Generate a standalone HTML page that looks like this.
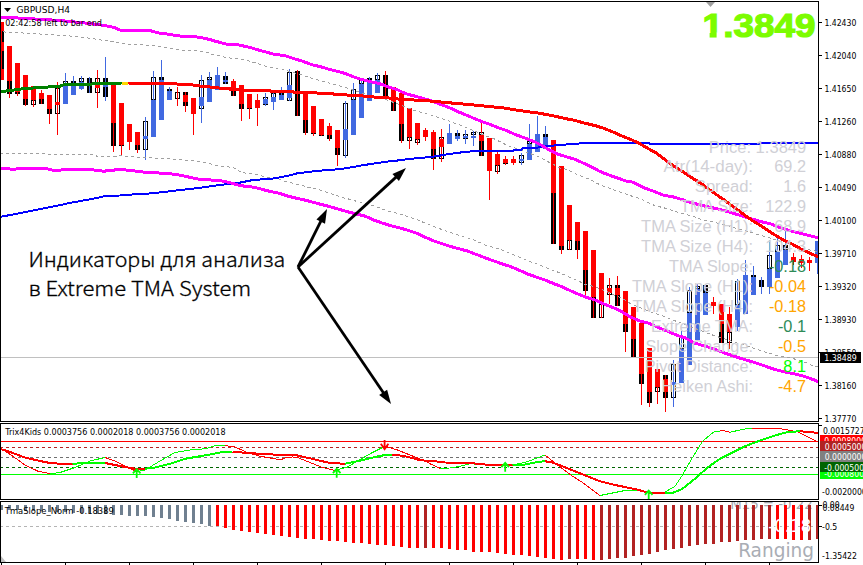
<!DOCTYPE html><html><head><meta charset="utf-8"><title>GBPUSD,H4</title><style>html,body{margin:0;padding:0;background:#fff;width:863px;height:565px;overflow:hidden}svg{display:block}text{font-family:"Liberation Sans",Arial,sans-serif}text.tt{font-family:"DejaVu Sans",sans-serif}</style></head><body>
<svg width="863" height="565" viewBox="0 0 863 565">
<rect x="0" y="0" width="863" height="565" fill="#fff"/>
<defs><clipPath id="cm"><rect x="1" y="2" width="817" height="419"/></clipPath><clipPath id="c1"><rect x="1" y="424" width="817" height="75"/></clipPath><clipPath id="c2"><rect x="1" y="502" width="817" height="60"/></clipPath></defs>
<g clip-path="url(#cm)">
<g shape-rendering="crispEdges">
<rect x="-1" y="22" width="5" height="58" fill="#ff0000"/>
<rect x="-1" y="31" width="5" height="11" fill="#000"/>
<rect x="-1" y="51" width="5" height="18" fill="#000"/>
<rect x="1" y="22" width="1" height="58" fill="#ff0000"/>
<rect x="7" y="46" width="5" height="35" fill="#ff0000"/>
<rect x="7" y="81" width="5" height="13" fill="#000"/>
<rect x="9" y="46" width="1" height="52" fill="#ff0000"/>
<rect x="15" y="63" width="5" height="29" fill="#ff0000"/>
<rect x="15" y="92" width="5" height="2" fill="#000"/>
<rect x="17" y="63" width="1" height="33" fill="#ff0000"/>
<rect x="23" y="75" width="5" height="24" fill="#ff0000"/>
<rect x="23" y="99" width="5" height="6" fill="#000"/>
<rect x="25" y="75" width="1" height="31" fill="#ff0000"/>
<rect x="31" y="86" width="5" height="14" fill="#ff0000"/>
<rect x="31" y="100" width="5" height="5" fill="#000"/>
<rect x="32" y="101" width="3" height="3" fill="#fff"/>
<rect x="33" y="86" width="1" height="21" fill="#ff0000"/>
<rect x="39" y="93" width="5" height="6" fill="#ff0000"/>
<rect x="39" y="99" width="5" height="5" fill="#000"/>
<rect x="41" y="90" width="1" height="14" fill="#ff0000"/>
<rect x="47" y="95" width="5" height="14" fill="#ff0000"/>
<rect x="47" y="109" width="5" height="5" fill="#000"/>
<rect x="49" y="95" width="1" height="29" fill="#ff0000"/>
<rect x="55" y="88" width="5" height="26" fill="#000"/>
<rect x="56" y="89" width="3" height="24" fill="#fff"/>
<rect x="55" y="102" width="5" height="3" fill="#ff0000"/>
<rect x="57" y="82" width="1" height="53" fill="#ff0000"/>
<rect x="63" y="81" width="5" height="3" fill="#000"/>
<rect x="64" y="82" width="3" height="1" fill="#fff"/>
<rect x="63" y="84" width="5" height="20" fill="#4169e1"/>
<rect x="65" y="73" width="1" height="31" fill="#4169e1"/>
<rect x="71" y="81" width="5" height="2" fill="#000"/>
<rect x="71" y="83" width="5" height="12" fill="#4169e1"/>
<rect x="73" y="76" width="1" height="19" fill="#4169e1"/>
<rect x="79" y="78" width="5" height="4" fill="#000"/>
<rect x="80" y="79" width="3" height="2" fill="#fff"/>
<rect x="79" y="82" width="5" height="7" fill="#4169e1"/>
<rect x="81" y="76" width="1" height="14" fill="#4169e1"/>
<rect x="87" y="78" width="5" height="15" fill="#000"/>
<rect x="89" y="77" width="1" height="16" fill="#4169e1"/>
<rect x="95" y="78" width="5" height="15" fill="#000"/>
<rect x="96" y="79" width="3" height="13" fill="#fff"/>
<rect x="95" y="85" width="5" height="3" fill="#ff0000"/>
<rect x="97" y="70" width="1" height="38" fill="#ff0000"/>
<rect x="103" y="78" width="5" height="19" fill="#000"/>
<rect x="103" y="84" width="5" height="3" fill="#4169e1"/>
<rect x="105" y="57" width="1" height="44" fill="#4169e1"/>
<rect x="111" y="84" width="5" height="39" fill="#ff0000"/>
<rect x="111" y="123" width="5" height="23" fill="#000"/>
<rect x="113" y="84" width="1" height="68" fill="#ff0000"/>
<rect x="119" y="103" width="5" height="42" fill="#ff0000"/>
<rect x="119" y="145" width="5" height="1" fill="#000"/>
<rect x="121" y="103" width="1" height="53" fill="#ff0000"/>
<rect x="127" y="124" width="5" height="18" fill="#ff0000"/>
<rect x="129" y="124" width="1" height="26" fill="#ff0000"/>
<rect x="135" y="132" width="5" height="13" fill="#ff0000"/>
<rect x="135" y="145" width="5" height="5" fill="#000"/>
<rect x="137" y="132" width="1" height="21" fill="#ff0000"/>
<rect x="143" y="121" width="5" height="29" fill="#000"/>
<rect x="144" y="122" width="3" height="27" fill="#fff"/>
<rect x="143" y="136" width="5" height="3" fill="#4169e1"/>
<rect x="145" y="117" width="1" height="43" fill="#4169e1"/>
<rect x="151" y="77" width="5" height="23" fill="#000"/>
<rect x="152" y="78" width="3" height="21" fill="#fff"/>
<rect x="151" y="100" width="5" height="37" fill="#4169e1"/>
<rect x="153" y="71" width="1" height="66" fill="#4169e1"/>
<rect x="159" y="77" width="5" height="3" fill="#000"/>
<rect x="159" y="80" width="5" height="40" fill="#4169e1"/>
<rect x="161" y="60" width="1" height="60" fill="#4169e1"/>
<rect x="167" y="89" width="5" height="2" fill="#000"/>
<rect x="167" y="91" width="5" height="9" fill="#4169e1"/>
<rect x="169" y="87" width="1" height="13" fill="#4169e1"/>
<rect x="175" y="92" width="5" height="7" fill="#000"/>
<rect x="176" y="93" width="3" height="5" fill="#fff"/>
<rect x="177" y="87" width="1" height="19" fill="#ff0000"/>
<rect x="183" y="92" width="5" height="3" fill="#000"/>
<rect x="183" y="95" width="5" height="7" fill="#ff0000"/>
<rect x="183" y="102" width="5" height="4" fill="#000"/>
<rect x="185" y="92" width="1" height="20" fill="#ff0000"/>
<rect x="191" y="98" width="5" height="16" fill="#ff0000"/>
<rect x="193" y="98" width="1" height="37" fill="#ff0000"/>
<rect x="199" y="80" width="5" height="29" fill="#000"/>
<rect x="200" y="81" width="3" height="27" fill="#fff"/>
<rect x="199" y="97" width="5" height="9" fill="#4169e1"/>
<rect x="201" y="75" width="1" height="48" fill="#4169e1"/>
<rect x="207" y="77" width="5" height="3" fill="#000"/>
<rect x="208" y="78" width="3" height="1" fill="#fff"/>
<rect x="207" y="80" width="5" height="22" fill="#4169e1"/>
<rect x="209" y="72" width="1" height="30" fill="#4169e1"/>
<rect x="215" y="75" width="5" height="15" fill="#4169e1"/>
<rect x="217" y="67" width="1" height="23" fill="#4169e1"/>
<rect x="223" y="76" width="5" height="8" fill="#000"/>
<rect x="223" y="80" width="5" height="2" fill="#4169e1"/>
<rect x="225" y="72" width="1" height="12" fill="#4169e1"/>
<rect x="231" y="81" width="5" height="10" fill="#ff0000"/>
<rect x="231" y="91" width="5" height="5" fill="#000"/>
<rect x="233" y="79" width="1" height="17" fill="#ff0000"/>
<rect x="239" y="85" width="5" height="19" fill="#ff0000"/>
<rect x="239" y="104" width="5" height="5" fill="#000"/>
<rect x="241" y="85" width="1" height="36" fill="#ff0000"/>
<rect x="247" y="94" width="5" height="14" fill="#ff0000"/>
<rect x="247" y="108" width="5" height="1" fill="#000"/>
<rect x="249" y="94" width="1" height="25" fill="#ff0000"/>
<rect x="255" y="100" width="5" height="8" fill="#ff0000"/>
<rect x="257" y="94" width="1" height="32" fill="#ff0000"/>
<rect x="263" y="97" width="5" height="8" fill="#000"/>
<rect x="264" y="98" width="3" height="6" fill="#fff"/>
<rect x="263" y="99" width="5" height="5" fill="#4169e1"/>
<rect x="265" y="93" width="1" height="13" fill="#4169e1"/>
<rect x="271" y="93" width="5" height="5" fill="#000"/>
<rect x="272" y="94" width="3" height="3" fill="#fff"/>
<rect x="271" y="97" width="5" height="5" fill="#4169e1"/>
<rect x="273" y="93" width="1" height="17" fill="#4169e1"/>
<rect x="279" y="93" width="5" height="2" fill="#000"/>
<rect x="279" y="95" width="5" height="5" fill="#4169e1"/>
<rect x="281" y="87" width="1" height="13" fill="#4169e1"/>
<rect x="287" y="72" width="5" height="29" fill="#000"/>
<rect x="288" y="73" width="3" height="27" fill="#fff"/>
<rect x="287" y="85" width="5" height="13" fill="#4169e1"/>
<rect x="289" y="69" width="1" height="32" fill="#4169e1"/>
<rect x="295" y="71" width="5" height="45" fill="#000"/>
<rect x="297" y="70" width="1" height="46" fill="#ff0000"/>
<rect x="303" y="93" width="5" height="27" fill="#ff0000"/>
<rect x="303" y="120" width="5" height="12.5" fill="#000"/>
<rect x="305" y="93" width="1" height="42" fill="#ff0000"/>
<rect x="311" y="106" width="5" height="27" fill="#ff0000"/>
<rect x="311" y="133" width="5" height="1" fill="#000"/>
<rect x="313" y="106" width="1" height="30" fill="#ff0000"/>
<rect x="319" y="119" width="5" height="16" fill="#ff0000"/>
<rect x="319" y="135" width="5" height="1" fill="#000"/>
<rect x="321" y="119" width="1" height="17" fill="#ff0000"/>
<rect x="327" y="126" width="5" height="9" fill="#ff0000"/>
<rect x="327" y="135" width="5" height="4" fill="#000"/>
<rect x="329" y="123" width="1" height="18" fill="#ff0000"/>
<rect x="335" y="130" width="5" height="18" fill="#ff0000"/>
<rect x="335" y="148" width="5" height="7" fill="#000"/>
<rect x="337" y="130" width="1" height="36" fill="#ff0000"/>
<rect x="343" y="103" width="5" height="53" fill="#000"/>
<rect x="344" y="104" width="3" height="51" fill="#fff"/>
<rect x="343" y="129" width="5" height="11" fill="#4169e1"/>
<rect x="345" y="101" width="1" height="57" fill="#4169e1"/>
<rect x="351" y="89" width="5" height="11" fill="#000"/>
<rect x="352" y="90" width="3" height="9" fill="#fff"/>
<rect x="351" y="100" width="5" height="35" fill="#4169e1"/>
<rect x="353" y="83" width="1" height="52" fill="#4169e1"/>
<rect x="359" y="80" width="5" height="4" fill="#000"/>
<rect x="360" y="81" width="3" height="2" fill="#fff"/>
<rect x="359" y="84" width="5" height="34" fill="#4169e1"/>
<rect x="361" y="79" width="1" height="39" fill="#4169e1"/>
<rect x="367" y="78" width="5" height="2" fill="#000"/>
<rect x="367" y="80" width="5" height="21" fill="#4169e1"/>
<rect x="369" y="77" width="1" height="24" fill="#4169e1"/>
<rect x="375" y="75" width="5" height="5" fill="#000"/>
<rect x="376" y="76" width="3" height="3" fill="#fff"/>
<rect x="375" y="80" width="5" height="13" fill="#4169e1"/>
<rect x="377" y="73" width="1" height="20" fill="#4169e1"/>
<rect x="383" y="75" width="5" height="22" fill="#000"/>
<rect x="385" y="71" width="1" height="26" fill="#ff0000"/>
<rect x="391" y="87" width="5" height="15" fill="#ff0000"/>
<rect x="391" y="102" width="5" height="9" fill="#000"/>
<rect x="393" y="87" width="1" height="24" fill="#ff0000"/>
<rect x="399" y="93" width="5" height="31" fill="#ff0000"/>
<rect x="399" y="124" width="5" height="17" fill="#000"/>
<rect x="401" y="93" width="1" height="50" fill="#ff0000"/>
<rect x="407" y="108" width="5" height="29" fill="#ff0000"/>
<rect x="407" y="137" width="5" height="4" fill="#000"/>
<rect x="408" y="138" width="3" height="2" fill="#fff"/>
<rect x="409" y="108" width="1" height="41" fill="#ff0000"/>
<rect x="415" y="123" width="5" height="16" fill="#ff0000"/>
<rect x="415" y="139" width="5" height="4" fill="#000"/>
<rect x="416" y="140" width="3" height="2" fill="#fff"/>
<rect x="417" y="123" width="1" height="22" fill="#ff0000"/>
<rect x="423" y="130" width="5" height="7" fill="#ff0000"/>
<rect x="425" y="128" width="1" height="13" fill="#ff0000"/>
<rect x="431" y="132" width="5" height="17" fill="#ff0000"/>
<rect x="431" y="149" width="5" height="10" fill="#000"/>
<rect x="433" y="130" width="1" height="40" fill="#ff0000"/>
<rect x="439" y="137" width="5" height="22" fill="#000"/>
<rect x="440" y="138" width="3" height="20" fill="#fff"/>
<rect x="439" y="139" width="5" height="8" fill="#ff0000"/>
<rect x="441" y="129" width="1" height="33" fill="#ff0000"/>
<rect x="447" y="133" width="5" height="11" fill="#4169e1"/>
<rect x="449" y="124" width="1" height="20" fill="#4169e1"/>
<rect x="455" y="133" width="5" height="3" fill="#000"/>
<rect x="455" y="136" width="5" height="3" fill="#4169e1"/>
<rect x="457" y="130" width="1" height="11" fill="#4169e1"/>
<rect x="463" y="134" width="5" height="5" fill="#000"/>
<rect x="464" y="135" width="3" height="3" fill="#fff"/>
<rect x="463" y="136" width="5" height="2" fill="#4169e1"/>
<rect x="465" y="130" width="1" height="14" fill="#4169e1"/>
<rect x="471" y="132" width="5" height="3" fill="#000"/>
<rect x="472" y="133" width="3" height="1" fill="#fff"/>
<rect x="471" y="136" width="5" height="2" fill="#4169e1"/>
<rect x="473" y="131" width="1" height="15" fill="#4169e1"/>
<rect x="479" y="132" width="5" height="3" fill="#000"/>
<rect x="480" y="133" width="3" height="1" fill="#fff"/>
<rect x="479" y="135" width="5" height="6" fill="#ff0000"/>
<rect x="479" y="141" width="5" height="15" fill="#000"/>
<rect x="481" y="123" width="1" height="33" fill="#ff0000"/>
<rect x="487" y="138" width="5" height="33" fill="#ff0000"/>
<rect x="489" y="138" width="1" height="62" fill="#ff0000"/>
<rect x="495" y="154" width="5" height="11" fill="#ff0000"/>
<rect x="495" y="165" width="5" height="7" fill="#000"/>
<rect x="496" y="166" width="3" height="5" fill="#fff"/>
<rect x="497" y="150" width="1" height="24" fill="#ff0000"/>
<rect x="503" y="159" width="5" height="4" fill="#ff0000"/>
<rect x="503" y="163" width="5" height="1" fill="#000"/>
<rect x="505" y="156" width="1" height="9" fill="#ff0000"/>
<rect x="511" y="159" width="5" height="4" fill="#ff0000"/>
<rect x="513" y="156" width="1" height="9" fill="#ff0000"/>
<rect x="519" y="155" width="5" height="8" fill="#000"/>
<rect x="520" y="156" width="3" height="6" fill="#fff"/>
<rect x="519" y="159" width="5" height="2" fill="#4169e1"/>
<rect x="521" y="153" width="1" height="12" fill="#4169e1"/>
<rect x="527" y="141" width="5" height="3" fill="#000"/>
<rect x="528" y="142" width="3" height="1" fill="#fff"/>
<rect x="527" y="144" width="5" height="16" fill="#4169e1"/>
<rect x="529" y="124" width="1" height="36" fill="#4169e1"/>
<rect x="535" y="134" width="5" height="18" fill="#4169e1"/>
<rect x="537" y="116" width="1" height="36" fill="#4169e1"/>
<rect x="543" y="134" width="5" height="3" fill="#000"/>
<rect x="543" y="137" width="5" height="12" fill="#4169e1"/>
<rect x="545" y="126" width="1" height="23" fill="#4169e1"/>
<rect x="551" y="140" width="5" height="53" fill="#ff0000"/>
<rect x="551" y="193" width="5" height="51" fill="#000"/>
<rect x="553" y="140" width="1" height="104" fill="#ff0000"/>
<rect x="559" y="166" width="5" height="80" fill="#ff0000"/>
<rect x="559" y="246" width="5" height="4" fill="#000"/>
<rect x="561" y="166" width="1" height="88" fill="#ff0000"/>
<rect x="567" y="205" width="5" height="35" fill="#ff0000"/>
<rect x="567" y="240" width="5" height="10" fill="#000"/>
<rect x="568" y="241" width="3" height="8" fill="#fff"/>
<rect x="569" y="205" width="1" height="45" fill="#ff0000"/>
<rect x="575" y="222" width="5" height="19" fill="#ff0000"/>
<rect x="575" y="241" width="5" height="9" fill="#000"/>
<rect x="577" y="222" width="1" height="37" fill="#ff0000"/>
<rect x="583" y="231" width="5" height="39" fill="#ff0000"/>
<rect x="583" y="270" width="5" height="21" fill="#000"/>
<rect x="585" y="231" width="1" height="64" fill="#ff0000"/>
<rect x="591" y="250" width="5" height="47" fill="#ff0000"/>
<rect x="591" y="297" width="5" height="21" fill="#000"/>
<rect x="593" y="250" width="1" height="68" fill="#ff0000"/>
<rect x="599" y="273" width="5" height="31" fill="#ff0000"/>
<rect x="599" y="304" width="5" height="14" fill="#000"/>
<rect x="600" y="305" width="3" height="12" fill="#fff"/>
<rect x="601" y="273" width="1" height="45" fill="#ff0000"/>
<rect x="607" y="285" width="5" height="10" fill="#000"/>
<rect x="608" y="286" width="3" height="8" fill="#fff"/>
<rect x="607" y="288" width="5" height="5" fill="#ff0000"/>
<rect x="609" y="278" width="1" height="26" fill="#ff0000"/>
<rect x="615" y="285" width="5" height="21" fill="#000"/>
<rect x="615" y="288" width="5" height="7" fill="#ff0000"/>
<rect x="617" y="276" width="1" height="30" fill="#ff0000"/>
<rect x="623" y="291" width="5" height="33" fill="#ff0000"/>
<rect x="623" y="324" width="5" height="8" fill="#000"/>
<rect x="625" y="291" width="1" height="61" fill="#ff0000"/>
<rect x="631" y="307" width="5" height="32" fill="#ff0000"/>
<rect x="631" y="339" width="5" height="19" fill="#000"/>
<rect x="633" y="307" width="1" height="51" fill="#ff0000"/>
<rect x="639" y="323" width="5" height="51" fill="#ff0000"/>
<rect x="639" y="374" width="5" height="10" fill="#000"/>
<rect x="641" y="323" width="1" height="82" fill="#ff0000"/>
<rect x="647" y="348" width="5" height="44" fill="#ff0000"/>
<rect x="647" y="392" width="5" height="11" fill="#000"/>
<rect x="649" y="348" width="1" height="59" fill="#ff0000"/>
<rect x="655" y="369" width="5" height="18" fill="#ff0000"/>
<rect x="655" y="387" width="5" height="5" fill="#000"/>
<rect x="656" y="388" width="3" height="3" fill="#fff"/>
<rect x="657" y="369" width="1" height="35" fill="#ff0000"/>
<rect x="663" y="375" width="5" height="4" fill="#000"/>
<rect x="663" y="379" width="5" height="13" fill="#ff0000"/>
<rect x="663" y="392" width="5" height="6" fill="#000"/>
<rect x="665" y="375" width="1" height="37" fill="#ff0000"/>
<rect x="671" y="364" width="5" height="34" fill="#000"/>
<rect x="672" y="365" width="3" height="32" fill="#fff"/>
<rect x="671" y="382" width="5" height="3" fill="#4169e1"/>
<rect x="673" y="360" width="1" height="47" fill="#4169e1"/>
<rect x="679" y="337" width="5" height="12" fill="#000"/>
<rect x="680" y="338" width="3" height="10" fill="#fff"/>
<rect x="679" y="349" width="5" height="34" fill="#4169e1"/>
<rect x="681" y="331" width="1" height="52" fill="#4169e1"/>
<rect x="687" y="290" width="5" height="23" fill="#000"/>
<rect x="688" y="291" width="3" height="21" fill="#fff"/>
<rect x="687" y="313" width="5" height="52" fill="#4169e1"/>
<rect x="689" y="287" width="1" height="78" fill="#4169e1"/>
<rect x="695" y="286" width="5" height="3" fill="#000"/>
<rect x="696" y="287" width="3" height="1" fill="#fff"/>
<rect x="695" y="289" width="5" height="51" fill="#4169e1"/>
<rect x="697" y="284" width="1" height="56" fill="#4169e1"/>
<rect x="703" y="285" width="5" height="8" fill="#000"/>
<rect x="703" y="293" width="5" height="22" fill="#4169e1"/>
<rect x="705" y="284" width="1" height="31" fill="#4169e1"/>
<rect x="711" y="302" width="5" height="4" fill="#ff0000"/>
<rect x="713" y="297" width="1" height="17" fill="#ff0000"/>
<rect x="719" y="304" width="5" height="20" fill="#ff0000"/>
<rect x="719" y="324" width="5" height="19" fill="#000"/>
<rect x="721" y="304" width="1" height="39" fill="#ff0000"/>
<rect x="727" y="314" width="5" height="18" fill="#ff0000"/>
<rect x="727" y="332" width="5" height="11" fill="#000"/>
<rect x="728" y="333" width="3" height="9" fill="#fff"/>
<rect x="729" y="307" width="1" height="42" fill="#ff0000"/>
<rect x="735" y="281" width="5" height="24" fill="#000"/>
<rect x="736" y="282" width="3" height="22" fill="#fff"/>
<rect x="735" y="305" width="5" height="22" fill="#4169e1"/>
<rect x="737" y="279" width="1" height="52" fill="#4169e1"/>
<rect x="743" y="275" width="5" height="39" fill="#4169e1"/>
<rect x="745" y="260" width="1" height="54" fill="#4169e1"/>
<rect x="751" y="275" width="5" height="2" fill="#000"/>
<rect x="751" y="277" width="5" height="18" fill="#4169e1"/>
<rect x="753" y="266" width="1" height="29" fill="#4169e1"/>
<rect x="759" y="280" width="5" height="7" fill="#000"/>
<rect x="761" y="277" width="1" height="17" fill="#4169e1"/>
<rect x="767" y="255" width="5" height="14" fill="#000"/>
<rect x="768" y="256" width="3" height="12" fill="#fff"/>
<rect x="767" y="269" width="5" height="18" fill="#4169e1"/>
<rect x="769" y="240" width="1" height="54" fill="#4169e1"/>
<rect x="775" y="245" width="5" height="7" fill="#000"/>
<rect x="776" y="246" width="3" height="5" fill="#fff"/>
<rect x="775" y="252" width="5" height="26" fill="#4169e1"/>
<rect x="777" y="238" width="1" height="40" fill="#4169e1"/>
<rect x="783" y="245" width="5" height="5" fill="#000"/>
<rect x="783" y="250" width="5" height="15" fill="#4169e1"/>
<rect x="785" y="231" width="1" height="34" fill="#4169e1"/>
<rect x="791" y="257" width="5" height="5" fill="#ff0000"/>
<rect x="793" y="253" width="1" height="12" fill="#ff0000"/>
<rect x="799" y="259" width="5" height="4" fill="#ff0000"/>
<rect x="801" y="255" width="1" height="13" fill="#ff0000"/>
<rect x="807" y="260" width="5" height="3" fill="#ff0000"/>
<rect x="809" y="257" width="1" height="14" fill="#ff0000"/>
<rect x="815" y="241" width="5" height="22" fill="#4169e1"/>
<rect x="817" y="241" width="1" height="33" fill="#4169e1"/>
</g>
<line x1="0" y1="357.5" x2="818" y2="357.5" stroke="#c0c0c0" stroke-width="1"/>
<polyline points="3,31.9 40,34 70,36 92,38.5 104.2,40.5 115.9,42.1 122.3,43.5 131.9,44.4 142.5,44.9 153.1,45.8 158.4,46.5 164.2,47.5 170.6,48.4 177,49.4 182.3,50.5 195,50.5 200.4,51.3 206.7,52.4 212,54.2 218.4,55.5 224.2,57.1 230.6,58.1 236.5,58.4 242.3,59.4 248.7,61 254,62.4 260.4,64.4 266.2,66.3 272,67.9 278.4,69 284.2,70 290.6,71.8 302.3,75 308.7,77.4 314,78.7 320.4,81 326.7,82.4 332,84 338.4,85.6 344.2,87.1 350.6,89.4 361.2,92.8 368.7,95.3 375,96.3 380.4,97.9 386.7,100 393.1,102.2 398.4,104.3 404.4,106.4 410.7,109.1 416.6,111.2 422.4,112.6 428.8,114.4 434.1,116 440.5,118.1 446.8,120.2 452.2,122.4 458,124 465,127 476.6,132 487.5,136.4 493.7,138.6 499.9,141.7 506.1,144.8 511.9,147 518,149.2 524.2,151.4 530.4,153.6 536.2,155.8 541.8,158.6 548,161.7 554.2,164.8 559.9,167.9 566.1,169.2 572.3,171.9 578.1,175 584.2,177.2 590.4,179.8 596.2,182.9 602.2,185.7 608.4,187.9 614.6,190.1 620.4,192.3 626.5,194.3 632.3,196.3 638.5,198.1 644.2,200.7 650.4,203.5 655.9,206.1 662.5,207.4 668.3,209.2 674.5,210.9 680.2,213.1 686.4,214.5 692.6,216.2 698.4,218.5 704.6,220.2 710.3,221.4 725.8,225 737,228.5 763.2,236 770.6,238.1 781.2,241.9 807.8,249.8 813.1,250.4 818,252" fill="none" stroke="#a0a0a0" stroke-width="1" stroke-dasharray="3,3" shape-rendering="crispEdges"/>
<polyline points="0,153.5 40,153.5 55,154.9 95,154.9 97,156.3 115,156.3 120,155.7 148,157.8 176,159.2 191,160.6 205,162.7 219,165.8 233,167.5 241.4,172.5 254.2,174.2 271.8,178.1 278.4,179.2 284.2,181.2 290.4,182.5 296.1,184.3 302.3,185.6 308.5,187.4 314.2,188.5 320.4,190.2 326.6,192.3 338,195.9 344.2,198.1 350.4,199.4 356.1,201.2 362.3,202.5 374.2,206.1 380.4,208.3 386.6,210.5 392.7,212.2 398.4,213.5 404.6,215.5 410.4,217.5 416.5,219.3 422.3,221.9 428.5,224.3 434.2,226.8 440.4,229 446.6,231.2 459.3,235.4 464.6,237.2 470.4,238.5 476.5,241 482.3,243.8 488.5,246.3 494.2,247.4 500.4,249.3 506.2,251.8 518.4,256.8 524.6,259.4 530.4,261.9 536.5,263.8 542.3,266.1 548.5,268.5 554.2,270.8 560.4,273.1 566.6,275.8 572.4,278.4 578.6,281.1 584.8,284.2 590.5,285.5 596.3,287.3 602,289.5 608.2,292.1 614.4,295.2 619.5,297.3 625.3,300.2 632.1,304.6 653.5,312.9 662.3,315.8 668.1,318.2 709,333.8 715.9,336.2 752.8,347.9 764.5,351.8 776.1,355.2 788.8,357.7 801.4,360.6 812.2,365.4 818,367" fill="none" stroke="#a0a0a0" stroke-width="1" stroke-dasharray="3,3" shape-rendering="crispEdges"/>
<polyline points="0,216.9 14,214.3 28,211.5 42,208.7 57,205.8 71,202.7 85,200.2 99,197.6 106,195.7 120,195.5 134,194.3 148,193.6 162,192.2 176,190.5 191,188.9 205,187.1 219,185.1 233,183.5 240,182.6 254,179.8 270,179 278.8,177.5 287.7,175.9 297,173.4 311,171.6 325,170.2 339,169.2 353,167.1 360,165.7 368.8,164.3 377.7,163 386.5,161.7 395.4,160.8 404.2,159.6 413.1,158.6 420,158 437.7,156.1 442.1,155.2 449.2,153.9 457.2,153 466,151.7 480,151 513,151 514,150.1 521,150.1 522.5,148.3 540,147.4 545.3,146 561.2,145.1 570.1,144 586,143.1 649,143.1 650,144 760,144 762,143.1 818,143.1" fill="none" stroke="#0000ff" stroke-width="2" stroke-linejoin="round" shape-rendering="crispEdges"/>
<polyline points="0,17 30,18.7 60,20.5 90,23.5 105,25.6 111,26.7 115,27.7 121,30.5 132,30.4 145,30.4 151,30.9 157,32.5 160,33.3 165.3,33.7 173.8,35.1 181.2,36.2 191.9,36.2 198.2,37.2 204.6,38.3 211,39.9 216.3,41.5 220,42.3 225.3,44 235.9,44.3 241.2,45.4 246.5,46.7 251.9,48 257.2,49.7 262.5,51.1 267.8,52.5 273.1,54.1 280,55 285.3,55.8 290.6,57.6 295.9,59.3 301.2,60.8 306.5,62.7 311.9,64.7 317.2,65.9 322.5,67.2 327.8,68.9 333.1,70.2 340,72 345.3,73.5 350.6,75.6 355.9,77.7 361.2,79.3 366.5,80.7 371.9,82 377.2,83.1 382.5,84.6 387.8,86.8 393.1,88.4 398,90 403.3,92.6 408.6,94.5 413.9,95.8 419.2,97.4 424.5,98.8 429.9,100.3 435.2,102.2 440.5,104.3 445.8,106.4 451.1,108.5 458,111.7 465,114.5 472,117.5 480,120.9 488.8,124 497.7,127.5 506.5,130.6 515.4,134.6 524.2,137.7 533.1,141.2 540,144.4 548.8,149.7 557.7,154.2 566.5,156.8 575.4,159.5 584.2,163.5 593.1,167.9 600,171.5 608.8,175 617.7,178.1 626.5,181.2 633.6,182.3 635.4,183.5 644.2,187.9 653.1,191 663.8,195.4 672.7,196.8 681.5,199.4 690.4,202.5 699.2,204.7 708.1,206.9 715,208.3 725,210.9 732.1,213 739.2,215.1 746.2,217.3 753.3,219.4 760.4,221.5 770.6,223.8 781.2,228 791.9,231.2 802.5,233.9 813.1,236.5 818,237.8" fill="none" stroke="#ff00ff" stroke-width="3" stroke-linejoin="round" shape-rendering="crispEdges"/>
<polyline points="0,168.3 14,169.3 21,168.3 45,168.3 53,170.2 70,169.8 85,169.3 100,170.5 103,171.3 110,170.5 120,169.4 134,170.9 141,171.9 155,172.6 162,173.3 176,174.3 183,175.8 191,177.6 198,179 205,179.7 219,180.4 226,181.8 233,183.5 240,185.6 254,187.2 262,189.3 270,191.4 278.8,193.1 287.7,196.1 296.5,198.2 305.4,200.2 314.2,202.6 323.1,204.9 330,206.7 338.8,209.2 347.7,211.8 356.5,214 365.4,216.2 374.2,220.2 383.1,223.3 390,225.5 398.8,227.7 407.7,230.2 416.5,233.2 425.4,237.4 434.2,241 443.1,244.1 450,246.4 458.8,248.7 467.7,251.1 476.5,254.5 485.4,258 494.2,261.1 503.1,264.2 510,266.4 518.8,270 527.7,274 536.5,277.1 545.4,280.2 554.2,283.8 563.1,287.3 570,290.5 577.7,293.9 586.5,297.4 595.4,300.1 604.2,304.1 613.1,307.6 620,310.6 629.2,316.3 638.9,320.7 648.7,323.1 658.4,327.5 668.1,331.4 677.9,335.7 684.7,337.7 694.5,343 704.2,345.9 713.9,348.8 723.7,352.7 733.4,356.1 743.1,359.1 754.7,362.5 764.5,365.9 774.2,369.3 783.9,371.8 793.7,373.7 803.4,376.1 813.1,379.5 818,381.5" fill="none" stroke="#ff00ff" stroke-width="3" stroke-linejoin="round" shape-rendering="crispEdges"/>
<polyline points="0,91.5 10,90.7 20,89.1 30,88.3 40,87.4 50,86.9 60,86.3 62,85.1 70,84.3 80,84.2 90,84.2 100,83.4 121.7,83" fill="none" stroke="#008000" stroke-width="3" stroke-linejoin="round" shape-rendering="crispEdges"/>
<polyline points="121.7,83 128.3,83" fill="none" stroke="#ffd700" stroke-width="3" shape-rendering="crispEdges"/>
<polyline points="128.3,83 160,83.4 173.8,83.9 189.7,84.5 200,86 220,88.1 229.6,88.6 230.6,89.7 251.9,90.2 253,90.8 270,90.8 271,91.3 292.7,91.2 293.8,92.5 317.2,93 318.2,93.5 333.1,93.8 334.2,94.4 340,94.4 350.6,95.3 361.2,95.8 371.9,96.9 382.5,97.4 387.8,97.9 393.1,98.6 404.4,99.5 420,100.3 434,101.3 448,102.7 462,103.9 477,105.3 491,106.7 505,108.1 519,110.5 533,112.4 540,113.3 548.8,115 557.7,116.8 566.5,118.8 575.4,120.5 584.2,123 595,125.6 603.8,128.3 612.7,131.8 621.5,135.8 630.4,139.3 639.2,143.3 648.1,148.6 655,152.2 661.2,156.8 671.9,164.7 682.5,171.6 693.1,178.5 700,182.8 712,191.5 725,200.6 732.1,205.9 739.2,210.9 746.2,216.2 753.3,221.2 760.4,225.4 770.6,232.3 781.2,238.7 791.9,244 802.5,249.8 813.1,254.6 818,256.7" fill="none" stroke="#ff0000" stroke-width="3" stroke-linejoin="round" shape-rendering="crispEdges"/>
<g stroke="#000" stroke-width="2.8" fill="#000">
<line x1="298" y1="267" x2="321.633" y2="219.733"/>
<polygon stroke="none" points="327,209 325.032,223.669 316.446,219.375"/>
<line x1="298" y1="267" x2="397.154" y2="176.109"/>
<polygon stroke="none" points="406,168 398.923,180.998 392.436,173.922"/>
<line x1="298" y1="267" x2="384.26" y2="394.071"/>
<polygon stroke="none" points="391,404 379.166,395.113 387.108,389.721"/>
</g>
<text x="28.4" y="267" style="font-family:'Noto Sans CJK JP', 'Liberation Sans', sans-serif;font-weight:300" font-size="20.3" textLength="256.8" lengthAdjust="spacingAndGlyphs" fill="#000" stroke="#000" stroke-width="0.3">Индикаторы для анализа</text>
<text x="28.4" y="295.5" style="font-family:'Noto Sans CJK JP', 'Liberation Sans', sans-serif;font-weight:300" font-size="20.3" textLength="222.8" lengthAdjust="spacingAndGlyphs" fill="#000" stroke="#000" stroke-width="0.3">в Extreme TMA System</text>
<text x="708.7" y="152.5" font-size="16.3" textLength="97.6" lengthAdjust="spacingAndGlyphs" fill="#d0d0d6">Price: 1.3849</text>
<text x="663.4" y="172.4" font-size="16.3" textLength="89.6" lengthAdjust="spacingAndGlyphs" fill="#d0d0d6">Atr(14-day):</text>
<text x="806" y="172.4" font-size="16.3" text-anchor="end" fill="#d0d0d6">69.2</text>
<text x="694.8" y="192.3" font-size="16.3" textLength="58.2" lengthAdjust="spacingAndGlyphs" fill="#d0d0d6">Spread:</text>
<text x="806" y="192.3" font-size="16.3" text-anchor="end" fill="#d0d0d6">1.6</text>
<text x="680.2" y="212.3" font-size="16.3" textLength="72.8" lengthAdjust="spacingAndGlyphs" fill="#d0d0d6">TMA Size:</text>
<text x="806" y="212.3" font-size="16.3" text-anchor="end" fill="#d0d0d6">122.9</text>
<text x="641.1" y="232.2" font-size="16.3" textLength="111.9" lengthAdjust="spacingAndGlyphs" fill="#d0d0d6">TMA Size (H1):</text>
<text x="806" y="232.2" font-size="16.3" text-anchor="end" fill="#d0d0d6">68.9</text>
<text x="641.1" y="252.1" font-size="16.3" textLength="111.9" lengthAdjust="spacingAndGlyphs" fill="#d0d0d6">TMA Size (H4):</text>
<text x="806" y="252.1" font-size="16.3" text-anchor="end" fill="#d0d0d6">104.3</text>
<text x="669.0" y="272.0" font-size="16.3" textLength="84.0" lengthAdjust="spacingAndGlyphs" fill="#d0d0d6">TMA Slope:</text>
<text x="806" y="272.0" font-size="16.3" text-anchor="end" fill="#2e8b57">-0.18</text>
<text x="632.1" y="291.9" font-size="16.3" textLength="120.9" lengthAdjust="spacingAndGlyphs" fill="#d0d0d6">TMA Slope (H1):</text>
<text x="806" y="291.9" font-size="16.3" text-anchor="end" fill="#ffa500">-0.04</text>
<text x="632.5" y="311.9" font-size="16.3" textLength="120.5" lengthAdjust="spacingAndGlyphs" fill="#d0d0d6">TMA Slope (H4):</text>
<text x="806" y="311.9" font-size="16.3" text-anchor="end" fill="#ffa500">-0.18</text>
<text x="651.0" y="331.8" font-size="16.3" textLength="102.0" lengthAdjust="spacingAndGlyphs" fill="#d0d0d6">Extreme TMA:</text>
<text x="806" y="331.8" font-size="16.3" text-anchor="end" fill="#2e8b57">-0.1</text>
<text x="645.4" y="351.7" font-size="16.3" textLength="107.6" lengthAdjust="spacingAndGlyphs" fill="#d0d0d6">Slope Change:</text>
<text x="806" y="351.7" font-size="16.3" text-anchor="end" fill="#ffa500">-0.5</text>
<text x="644.8" y="371.6" font-size="16.3" textLength="108.2" lengthAdjust="spacingAndGlyphs" fill="#d0d0d6">Pivot Distance:</text>
<text x="806" y="371.6" font-size="16.3" text-anchor="end" fill="#00ff00">8.1</text>
<text x="661.2" y="391.5" font-size="16.3" textLength="91.8" lengthAdjust="spacingAndGlyphs" fill="#d0d0d6">Heiken Ashi:</text>
<text x="806" y="391.5" font-size="16.3" text-anchor="end" fill="#ffa500">-4.7</text>
<text x="702.6" y="37.2" font-size="32.5" font-weight="bold" textLength="113" lengthAdjust="spacingAndGlyphs" fill="#7cfc00" stroke="#7cfc00" stroke-width="1.2">1.3849</text>
<rect x="702" y="32.6" width="7.6" height="6" fill="#fff"/><rect x="716.6" y="32.6" width="7.6" height="6" fill="#fff"/>
<polygon points="706,2 715,2 710.5,7" fill="#a0a0a0"/>
</g>
<polygon points="4,8 11,8 7.5,12" fill="#000"/>
<text x="16.4" y="12.9" class="tt" font-size="9.4" textLength="53.6" lengthAdjust="spacingAndGlyphs" fill="#000">GBPUSD,H4</text>
<text x="5.2" y="25.8" class="tt" font-size="9.2" textLength="96.8" lengthAdjust="spacingAndGlyphs" fill="#000">02:42:58 left to bar end</text>
<g fill="none" stroke="#000" stroke-width="1" shape-rendering="crispEdges">
<rect x="0.5" y="1.5" width="818" height="420"/>
<rect x="0.5" y="423.5" width="818" height="76"/>
<rect x="0.5" y="501.5" width="818" height="61"/>
</g>
<g shape-rendering="crispEdges" fill="#000">
<rect x="819" y="22" width="3" height="1"/>
<rect x="819" y="55" width="3" height="1"/>
<rect x="819" y="88" width="3" height="1"/>
<rect x="819" y="121" width="3" height="1"/>
<rect x="819" y="154" width="3" height="1"/>
<rect x="819" y="187" width="3" height="1"/>
<rect x="819" y="220" width="3" height="1"/>
<rect x="819" y="253" width="3" height="1"/>
<rect x="819" y="286" width="3" height="1"/>
<rect x="819" y="319" width="3" height="1"/>
<rect x="819" y="352" width="3" height="1"/>
<rect x="819" y="385" width="3" height="1"/>
<rect x="819" y="418" width="3" height="1"/>
</g>
<text x="824.4" y="26.0" class="tt" font-size="9.3" textLength="32" lengthAdjust="spacingAndGlyphs" fill="#000">1.42430</text>
<text x="824.4" y="59.0" class="tt" font-size="9.3" textLength="32" lengthAdjust="spacingAndGlyphs" fill="#000">1.42040</text>
<text x="824.4" y="91.9" class="tt" font-size="9.3" textLength="32" lengthAdjust="spacingAndGlyphs" fill="#000">1.41650</text>
<text x="824.4" y="124.9" class="tt" font-size="9.3" textLength="32" lengthAdjust="spacingAndGlyphs" fill="#000">1.41260</text>
<text x="824.4" y="157.9" class="tt" font-size="9.3" textLength="32" lengthAdjust="spacingAndGlyphs" fill="#000">1.40880</text>
<text x="824.4" y="190.8" class="tt" font-size="9.3" textLength="32" lengthAdjust="spacingAndGlyphs" fill="#000">1.40490</text>
<text x="824.4" y="223.8" class="tt" font-size="9.3" textLength="32" lengthAdjust="spacingAndGlyphs" fill="#000">1.40100</text>
<text x="824.4" y="256.8" class="tt" font-size="9.3" textLength="32" lengthAdjust="spacingAndGlyphs" fill="#000">1.39710</text>
<text x="824.4" y="289.8" class="tt" font-size="9.3" textLength="32" lengthAdjust="spacingAndGlyphs" fill="#000">1.39320</text>
<text x="824.4" y="322.7" class="tt" font-size="9.3" textLength="32" lengthAdjust="spacingAndGlyphs" fill="#000">1.38930</text>
<text x="824.4" y="355.7" class="tt" font-size="9.3" textLength="32" lengthAdjust="spacingAndGlyphs" fill="#000">1.38550</text>
<text x="824.4" y="388.7" class="tt" font-size="9.3" textLength="32" lengthAdjust="spacingAndGlyphs" fill="#000">1.38160</text>
<text x="824.4" y="421.6" class="tt" font-size="9.3" textLength="32" lengthAdjust="spacingAndGlyphs" fill="#000">1.37770</text>
<rect x="820" y="352" width="41" height="11" fill="#000"/>
<text x="824.2" y="361.2" class="tt" font-size="9.3" textLength="32.5" lengthAdjust="spacingAndGlyphs" fill="#fff">1.38489</text>
<g clip-path="url(#c1)">
<g shape-rendering="crispEdges">
<line x1="0" y1="441.5" x2="818" y2="441.5" stroke="#ff0000"/>
<line x1="0" y1="447.5" x2="818" y2="447.5" stroke="#b22222" stroke-dasharray="3,3"/>
<line x1="0" y1="457.5" x2="818" y2="457.5" stroke="#707070" stroke-dasharray="3,3"/>
<line x1="0" y1="467.5" x2="818" y2="467.5" stroke="#006400" stroke-dasharray="3,3"/>
<line x1="0" y1="474.5" x2="818" y2="474.5" stroke="#00ff00"/>
</g>
<polyline points="0,447.5 12.5,456 25,465 37.5,471 50,473.75" fill="none" stroke="#ff0000" stroke-width="1" shape-rendering="crispEdges"/>
<polyline points="50,473.75 60,472.5 75,467.5 90,461 105,457.5" fill="none" stroke="#00ff00" stroke-width="1" shape-rendering="crispEdges"/>
<polyline points="105,457.5 115,461 125,466 135,471 140,471" fill="none" stroke="#ff0000" stroke-width="1" shape-rendering="crispEdges"/>
<polyline points="140,471 145,470 160,461 175,452.5 190,450 205,448.75 210,447.5 215,445.5 225,445.5" fill="none" stroke="#00ff00" stroke-width="1" shape-rendering="crispEdges"/>
<polyline points="225,445.5 235,447 247.5,452.5 260,456.25 275,458.75 280,460 285,458 292.5,457 297.5,457.5 310,462.5 322.5,467.5 335,470.5" fill="none" stroke="#ff0000" stroke-width="1" shape-rendering="crispEdges"/>
<polyline points="335,470.5 347.5,467 360,459.5 372.5,452.5 385,446.25" fill="none" stroke="#00ff00" stroke-width="1" shape-rendering="crispEdges"/>
<polyline points="385,446.25 397.5,450 410,455 426,461.25 430,463.75 440,468.25" fill="none" stroke="#ff0000" stroke-width="1" shape-rendering="crispEdges"/>
<polyline points="440,468.25 450,468 460,466.25 470,463.75 490,465 512.5,465 525,462.5 545,455" fill="none" stroke="#00ff00" stroke-width="1" shape-rendering="crispEdges"/>
<polyline points="545,455 557.5,465 570,474.5 582.5,482.5 600,495.5" fill="none" stroke="#ff0000" stroke-width="1" shape-rendering="crispEdges"/>
<polyline points="600,495.5 615,492.5 625,490.5 636,490.5 647.5,491.5" fill="none" stroke="#00ff00" stroke-width="1" shape-rendering="crispEdges"/>
<polyline points="647.5,491.5 656,493 665,492" fill="none" stroke="#ff0000" stroke-width="1" shape-rendering="crispEdges"/>
<polyline points="665,492 675,486.25 682.5,475 692.5,457.5 702.5,441.25 713.75,432 720,431" fill="none" stroke="#00ff00" stroke-width="1" shape-rendering="crispEdges"/>
<polyline points="720,431 724.1,430.9 730,432.3" fill="none" stroke="#ff0000" stroke-width="1" shape-rendering="crispEdges"/>
<polyline points="730,432.3 743.3,429.2 752.5,428.1" fill="none" stroke="#00ff00" stroke-width="1" shape-rendering="crispEdges"/>
<polyline points="752.5,428.1 765.3,428.7 776.3,428.1 787.3,429.8 798.2,432 809.2,437.5 818,441.8" fill="none" stroke="#ff0000" stroke-width="1" shape-rendering="crispEdges"/>
<polyline points="0,448.75 10,452 25,457.5 40,461 50,463 60,463.75 72.5,463.75" fill="none" stroke="#ff0000" stroke-width="2" stroke-linejoin="round" shape-rendering="crispEdges"/>
<polyline points="72.5,463.75 82.5,463.25 95,462.5 105,463" fill="none" stroke="#00ff00" stroke-width="2" stroke-linejoin="round" shape-rendering="crispEdges"/>
<polyline points="105,463 115,465 125,467 135,468.75 145,468.75" fill="none" stroke="#ff0000" stroke-width="2" stroke-linejoin="round" shape-rendering="crispEdges"/>
<polyline points="145,468.75 155,467.5 170,463.75 185,458.75 200,456.25 210,454.5 220,452.5 232.5,451.75" fill="none" stroke="#00ff00" stroke-width="2" stroke-linejoin="round" shape-rendering="crispEdges"/>
<polyline points="232.5,451.75 247.5,453 272.5,454.5 297.5,455.5 315,459.5 330,463 345,463.75" fill="none" stroke="#ff0000" stroke-width="2" stroke-linejoin="round" shape-rendering="crispEdges"/>
<polyline points="345,463.75 360,460.75 375,457 387.5,454.5 392.5,454.5" fill="none" stroke="#00ff00" stroke-width="2" stroke-linejoin="round" shape-rendering="crispEdges"/>
<polyline points="392.5,454.5 405,456.25 417.5,459.5 426,460.75 435,461.25 445,462.5 470,463 490,465 512.5,465" fill="none" stroke="#ff0000" stroke-width="2" stroke-linejoin="round" shape-rendering="crispEdges"/>
<polyline points="512.5,465 525,464.5 537.5,462 545,461.25" fill="none" stroke="#00ff00" stroke-width="2" stroke-linejoin="round" shape-rendering="crispEdges"/>
<polyline points="545,461.25 552.5,462.5 562.5,466.25 575,471.25 587.5,476.25 600,481.25 615,485 636,489.25 647.5,492.5 665,493" fill="none" stroke="#ff0000" stroke-width="2" stroke-linejoin="round" shape-rendering="crispEdges"/>
<polyline points="665,493 672.5,493 682.5,488.75 695,478.75 707.5,467.5 720,458.75 732.5,452.5 745,446.25 760,440.5 775,435.5 787.5,432 800,431.25" fill="none" stroke="#00ff00" stroke-width="2" stroke-linejoin="round" shape-rendering="crispEdges"/>
<polyline points="800,431.25 810,432 818,433" fill="none" stroke="#ff0000" stroke-width="2" stroke-linejoin="round" shape-rendering="crispEdges"/>
<path d="M136.7,468.5 V478 M132.9,473.3 L136.7,469 L140.5,473.3" fill="none" stroke="#00ff00" stroke-width="1.8"/>
<path d="M336.7,468.3 V477.8 M332.9,473.1 L336.7,468.8 L340.5,473.1" fill="none" stroke="#00ff00" stroke-width="1.8"/>
<path d="M505.2,462.3 V471.8 M501.4,467.1 L505.2,462.8 L509,467.1" fill="none" stroke="#00ff00" stroke-width="1.8"/>
<path d="M648.7,490 V499.5 M644.9,494.8 L648.7,490.5 L652.5,494.8" fill="none" stroke="#00ff00" stroke-width="1.8"/>
<path d="M384.6,449.6 V440.1 M380.8,443.8 L384.6,449.1 L388.4,443.8" fill="none" stroke="#ff0000" stroke-width="1.8"/>
<text x="5.3" y="435.4" class="tt" font-size="9.4" textLength="220.3" lengthAdjust="spacingAndGlyphs" fill="#000">Trix4Kids 0.0003756 0.0002018 0.0003756 0.0002018</text>
</g>
<rect x="819" y="425" width="3" height="1" fill="#000"/>
<text x="822.9" y="433.7" class="tt" font-size="9.3" textLength="41.75" lengthAdjust="spacingAndGlyphs" fill="#000">0.0015727</text>
<g shape-rendering="crispEdges">
<rect x="820" y="472" width="43" height="7" fill="#00ff00"/>
</g>
<text x="824.3" y="476.6" class="tt" font-size="9.3" textLength="44.70" lengthAdjust="spacingAndGlyphs" fill="#fff">-0.0008000</text>
<g shape-rendering="crispEdges">
<rect x="820" y="435" width="43" height="6" fill="#ff0000"/>
</g>
<text x="824.3" y="444" class="tt" font-size="9.3" textLength="41.75" lengthAdjust="spacingAndGlyphs" fill="#fff">0.0008000</text>
<g shape-rendering="crispEdges">
<rect x="820" y="441" width="43" height="10" fill="#b22222"/>
</g>
<text x="824.7" y="449.6" class="tt" font-size="9.3" textLength="41.75" lengthAdjust="spacingAndGlyphs" fill="#fff">0.0005000</text>
<g shape-rendering="crispEdges">
<rect x="820" y="451" width="43" height="11" fill="#808080"/>
</g>
<text x="824.7" y="460" class="tt" font-size="9.3" textLength="41.75" lengthAdjust="spacingAndGlyphs" fill="#fff">0.0000000</text>
<g shape-rendering="crispEdges">
<rect x="820" y="462" width="43" height="10" fill="#006400"/>
</g>
<text x="824.3" y="470.5" class="tt" font-size="9.3" textLength="44.70" lengthAdjust="spacingAndGlyphs" fill="#fff">-0.0005000</text>
<text x="822.1" y="495.3" class="tt" font-size="9.3" textLength="44.70" lengthAdjust="spacingAndGlyphs" fill="#000">-0.0020000</text>
<g clip-path="url(#c2)">
<line x1="0" y1="526.5" x2="818" y2="526.5" stroke="#b4b4b4" stroke-dasharray="3,3" shape-rendering="crispEdges"/>
<text x="730.2" y="509.3" style="font-family:'DejaVu Sans', sans-serif" font-size="14" textLength="82.5" lengthAdjust="spacingAndGlyphs" fill="#a4a8b0">M15 = -0.22</text>
<g shape-rendering="crispEdges">
<rect x="0" y="505" width="3" height="5" fill="#708090"/>
<rect x="8" y="505" width="3" height="5" fill="#708090"/>
<rect x="16" y="505" width="3" height="5" fill="#708090"/>
<rect x="24" y="505" width="3" height="6" fill="#708090"/>
<rect x="32" y="505" width="3" height="6" fill="#708090"/>
<rect x="40" y="505" width="3" height="6" fill="#708090"/>
<rect x="48" y="505" width="3" height="7" fill="#708090"/>
<rect x="56" y="505" width="3" height="7" fill="#708090"/>
<rect x="64" y="505" width="3" height="7" fill="#708090"/>
<rect x="72" y="505" width="3" height="8" fill="#708090"/>
<rect x="80" y="505" width="3" height="8" fill="#708090"/>
<rect x="88" y="505" width="3" height="8" fill="#708090"/>
<rect x="96" y="505" width="3" height="9" fill="#708090"/>
<rect x="104" y="505" width="3" height="9" fill="#708090"/>
<rect x="112" y="505" width="3" height="10" fill="#708090"/>
<rect x="120" y="505" width="3" height="10" fill="#708090"/>
<rect x="128" y="505" width="3" height="11" fill="#708090"/>
<rect x="136" y="505" width="3" height="11" fill="#708090"/>
<rect x="144" y="505" width="3" height="11" fill="#708090"/>
<rect x="152" y="505" width="3" height="12" fill="#708090"/>
<rect x="160" y="505" width="3" height="13" fill="#708090"/>
<rect x="168" y="505" width="3" height="14" fill="#708090"/>
<rect x="176" y="505" width="3" height="16" fill="#708090"/>
<rect x="184" y="505" width="3" height="17" fill="#708090"/>
<rect x="192" y="505" width="3" height="18" fill="#708090"/>
<rect x="200" y="505" width="3" height="19" fill="#708090"/>
<rect x="208" y="505" width="3" height="21" fill="#708090"/>
<rect x="216" y="505" width="3" height="21" fill="#ff0000"/>
<rect x="224" y="505" width="3" height="23" fill="#ff0000"/>
<rect x="232" y="505" width="3" height="25" fill="#ff0000"/>
<rect x="240" y="505" width="3" height="26" fill="#ff0000"/>
<rect x="248" y="505" width="3" height="27" fill="#ff0000"/>
<rect x="256" y="505" width="3" height="28" fill="#ff0000"/>
<rect x="264" y="505" width="3" height="29" fill="#ff0000"/>
<rect x="272" y="505" width="3" height="30" fill="#ff0000"/>
<rect x="280" y="505" width="3" height="31" fill="#ff0000"/>
<rect x="288" y="505" width="3" height="32" fill="#ff0000"/>
<rect x="296" y="505" width="3" height="33" fill="#ff0000"/>
<rect x="304" y="505" width="3" height="34" fill="#ff0000"/>
<rect x="312" y="505" width="3" height="34" fill="#ff0000"/>
<rect x="320" y="505" width="3" height="35" fill="#ff0000"/>
<rect x="328" y="505" width="3" height="36" fill="#ff0000"/>
<rect x="336" y="505" width="3" height="36" fill="#ff0000"/>
<rect x="344" y="505" width="3" height="37" fill="#ff0000"/>
<rect x="352" y="505" width="3" height="38" fill="#ff0000"/>
<rect x="360" y="505" width="3" height="38" fill="#ff0000"/>
<rect x="368" y="505" width="3" height="39" fill="#ff0000"/>
<rect x="376" y="505" width="3" height="40" fill="#ff0000"/>
<rect x="384" y="505" width="3" height="40" fill="#ff0000"/>
<rect x="392" y="505" width="3" height="41" fill="#ff0000"/>
<rect x="400" y="505" width="3" height="42" fill="#ff0000"/>
<rect x="408" y="505" width="3" height="43" fill="#ff0000"/>
<rect x="416" y="505" width="3" height="43" fill="#ff0000"/>
<rect x="424" y="505" width="3" height="43" fill="#b22222"/>
<rect x="432" y="505" width="3" height="43" fill="#ff0000"/>
<rect x="440" y="505" width="3" height="43" fill="#ff0000"/>
<rect x="448" y="505" width="3" height="44" fill="#ff0000"/>
<rect x="456" y="505" width="3" height="45" fill="#ff0000"/>
<rect x="464" y="505" width="3" height="45" fill="#ff0000"/>
<rect x="472" y="505" width="3" height="47" fill="#ff0000"/>
<rect x="480" y="505" width="3" height="47" fill="#ff0000"/>
<rect x="488" y="505" width="3" height="47" fill="#ff0000"/>
<rect x="496" y="505" width="3" height="48" fill="#ff0000"/>
<rect x="504" y="505" width="3" height="49" fill="#ff0000"/>
<rect x="512" y="505" width="3" height="50" fill="#ff0000"/>
<rect x="520" y="505" width="3" height="50" fill="#ff0000"/>
<rect x="528" y="505" width="3" height="51" fill="#ff0000"/>
<rect x="536" y="505" width="3" height="52" fill="#ff0000"/>
<rect x="544" y="505" width="3" height="53" fill="#ff0000"/>
<rect x="552" y="505" width="3" height="54" fill="#ff0000"/>
<rect x="560" y="505" width="3" height="55" fill="#ff0000"/>
<rect x="568" y="505" width="3" height="54" fill="#b22222"/>
<rect x="576" y="505" width="3" height="54" fill="#ff0000"/>
<rect x="584" y="505" width="3" height="54" fill="#ff0000"/>
<rect x="592" y="505" width="3" height="55" fill="#ff0000"/>
<rect x="600" y="505" width="3" height="55" fill="#b22222"/>
<rect x="608" y="505" width="3" height="54" fill="#b22222"/>
<rect x="616" y="505" width="3" height="53" fill="#b22222"/>
<rect x="624" y="505" width="3" height="53" fill="#b22222"/>
<rect x="632" y="505" width="3" height="51" fill="#b22222"/>
<rect x="640" y="505" width="3" height="50" fill="#b22222"/>
<rect x="648" y="505" width="3" height="49" fill="#b22222"/>
<rect x="656" y="505" width="3" height="47" fill="#b22222"/>
<rect x="664" y="505" width="3" height="45" fill="#b22222"/>
<rect x="672" y="505" width="3" height="44" fill="#b22222"/>
<rect x="680" y="505" width="3" height="43" fill="#b22222"/>
<rect x="688" y="505" width="3" height="41" fill="#b22222"/>
<rect x="696" y="505" width="3" height="40" fill="#b22222"/>
<rect x="704" y="505" width="3" height="39" fill="#b22222"/>
<rect x="712" y="505" width="3" height="39" fill="#b22222"/>
<rect x="720" y="505" width="3" height="37" fill="#b22222"/>
<rect x="728" y="505" width="3" height="37" fill="#b22222"/>
<rect x="736" y="505" width="3" height="36" fill="#b22222"/>
<rect x="744" y="505" width="3" height="35" fill="#b22222"/>
<rect x="752" y="505" width="3" height="35" fill="#b22222"/>
<rect x="760" y="505" width="3" height="34" fill="#b22222"/>
<rect x="768" y="505" width="3" height="34" fill="#b22222"/>
<rect x="776" y="505" width="3" height="34" fill="#ff0000"/>
<rect x="784" y="505" width="3" height="34" fill="#ff0000"/>
<rect x="792" y="505" width="3" height="35" fill="#ff0000"/>
<rect x="800" y="505" width="3" height="35" fill="#ff0000"/>
<rect x="808" y="505" width="3" height="35" fill="#b22222"/>
<rect x="816" y="505" width="3" height="34" fill="#b22222"/>
</g>
<text x="768.3" y="531.8" style="font-family:'DejaVu Sans', sans-serif" font-size="17.4" textLength="43" lengthAdjust="spacingAndGlyphs" fill="#ffffff">-0.18</text>
<text x="738.2" y="557.4" style="font-family:'DejaVu Sans', sans-serif" font-size="18.6" textLength="75.8" lengthAdjust="spacingAndGlyphs" fill="#a9adb4">Ranging</text>
<text x="4.8" y="513.7" class="tt" font-size="9.4" textLength="109" lengthAdjust="spacingAndGlyphs" fill="#000">TmaSlope_Norm -0.18389</text>
<polygon points="1,556 1,562 6,562" fill="#c0c0c0"/>
</g>
<rect x="819" y="505" width="3" height="1" fill="#000"/>
<rect x="819" y="526" width="3" height="1" fill="#000"/>
<text x="822.5" y="507.8" class="tt" font-size="9.3" textLength="17.19" lengthAdjust="spacingAndGlyphs" fill="#000">0.00</text>
<text x="822.5" y="511.2" class="tt" font-size="9.3" textLength="31.93" lengthAdjust="spacingAndGlyphs" fill="#000">0.08449</text>
<text x="822.1" y="530" class="tt" font-size="9.3" textLength="15.22" lengthAdjust="spacingAndGlyphs" fill="#000">-0.5</text>
<text x="822.1" y="558.9" class="tt" font-size="9.3" textLength="34.87" lengthAdjust="spacingAndGlyphs" fill="#000">-1.35422</text>
<g fill="#000" shape-rendering="crispEdges">
<rect x="1" y="563" width="1" height="2"/>
<rect x="65" y="563" width="1" height="2"/>
<rect x="129" y="563" width="1" height="2"/>
<rect x="193" y="563" width="1" height="2"/>
<rect x="257" y="563" width="1" height="2"/>
<rect x="321" y="563" width="1" height="2"/>
<rect x="385" y="563" width="1" height="2"/>
<rect x="449" y="563" width="1" height="2"/>
<rect x="513" y="563" width="1" height="2"/>
<rect x="577" y="563" width="1" height="2"/>
<rect x="641" y="563" width="1" height="2"/>
<rect x="705" y="563" width="1" height="2"/>
<rect x="769" y="563" width="1" height="2"/>
</g>
</svg></body></html>
